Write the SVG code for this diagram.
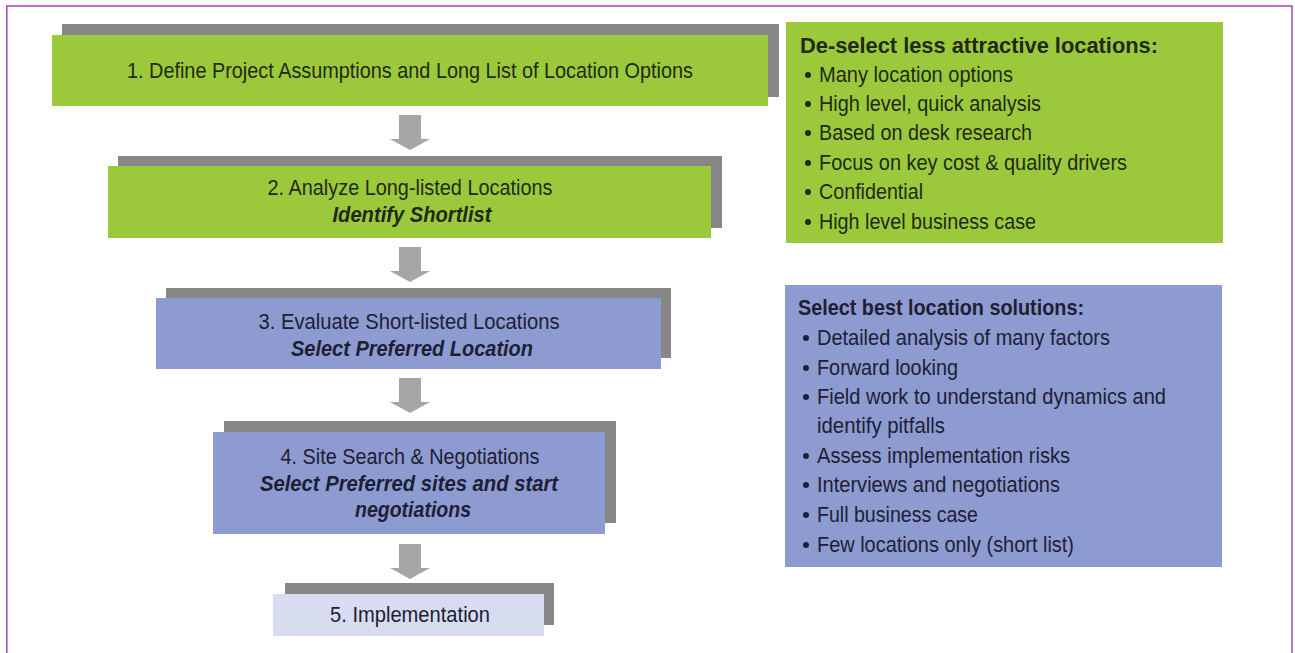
<svg xmlns="http://www.w3.org/2000/svg" width="1295" height="653" viewBox="0 0 1295 653">
  <defs>
    <style>
      .frame { fill: none; stroke: #a651bd; stroke-width: 1.6; }
      .shadow { fill: #878787; }
      .green { fill: #9cc93b; }
      .blue { fill: #8e9bd0; }
      .pale { fill: #d8dcf0; }
      .arrow { fill: #a6a6a6; }
      text { font-family: "Liberation Sans Narrow", "Liberation Sans", Arial, sans-serif; font-size: 22.5px; }
      .tg { fill: #1f2a14; }
      .tb { fill: #1d2035; }
      .c { text-anchor: middle; }
      .bi { font-weight: bold; font-style: italic; }
      .b { font-weight: bold; }
    </style>
    <path id="downArrow" d="M -11 0 H 11 V 24 H 20 L 0 35 L -20 24 H -11 Z"/>
  </defs>

  <rect width="1295" height="653" fill="#ffffff"/>
  <rect class="frame" x="6.8" y="6" width="1285.2" height="660"/>

  <!-- flow arrows between the steps -->
  <g id="connectors" class="arrow">
    <use href="#downArrow" x="410" y="115"/>
    <use href="#downArrow" x="410" y="247"/>
    <use href="#downArrow" x="410" y="378"/>
    <use href="#downArrow" x="410" y="544"/>
  </g>

  <g id="step1">
    <rect class="shadow" x="62" y="24" width="717" height="73"/>
    <rect class="green" x="52" y="35" width="716" height="71"/>
    <text class="tg c" x="410" y="78" textLength="566" lengthAdjust="spacingAndGlyphs">1. Define Project Assumptions and Long List of Location Options</text>
  </g>

  <g id="step2">
    <rect class="shadow" x="118" y="156" width="604" height="72"/>
    <rect class="green" x="108" y="166" width="603" height="72"/>
    <text class="tg c" x="410" y="195" textLength="285" lengthAdjust="spacingAndGlyphs">2. Analyze Long-listed Locations</text>
    <text class="tg c bi" x="412" y="222" textLength="159" lengthAdjust="spacingAndGlyphs">Identify Shortlist</text>
  </g>

  <g id="step3">
    <rect class="shadow" x="166" y="288" width="505" height="70"/>
    <rect class="blue" x="156" y="298" width="505" height="71"/>
    <text class="tb c" x="409" y="329" textLength="301" lengthAdjust="spacingAndGlyphs">3. Evaluate Short-listed Locations</text>
    <text class="tb c bi" x="412" y="356" textLength="242" lengthAdjust="spacingAndGlyphs">Select Preferred Location</text>
  </g>

  <g id="step4">
    <rect class="shadow" x="224" y="421" width="392" height="102"/>
    <rect class="blue" x="213" y="432" width="392" height="102"/>
    <text class="tb c" x="410" y="464" textLength="259" lengthAdjust="spacingAndGlyphs">4. Site Search &amp; Negotiations</text>
    <text class="tb c bi" x="409" y="491" textLength="298" lengthAdjust="spacingAndGlyphs">Select Preferred sites and start</text>
    <text class="tb c bi" x="413" y="517" textLength="116" lengthAdjust="spacingAndGlyphs">negotiations</text>
  </g>

  <g id="step5">
    <rect class="shadow" x="285" y="583" width="269" height="42"/>
    <rect class="pale" x="273" y="594" width="271" height="42"/>
    <text class="tb c" x="410" y="622" textLength="160" lengthAdjust="spacingAndGlyphs">5. Implementation</text>
  </g>

  <g id="deselect-panel">
    <rect class="green" x="786" y="22" width="437" height="221"/>
    <text class="tg b" x="800" y="53" textLength="358" lengthAdjust="spacingAndGlyphs">De-select less attractive locations:</text>
    <g class="tg">
      <circle cx="808" cy="75" r="3"/>
      <circle cx="808" cy="104" r="3"/>
      <circle cx="808" cy="133" r="3"/>
      <circle cx="808" cy="163" r="3"/>
      <circle cx="808" cy="192" r="3"/>
      <circle cx="808" cy="222" r="3"/>
    </g>
    <text class="tg" x="819" y="82" textLength="194" lengthAdjust="spacingAndGlyphs">Many location options</text>
    <text class="tg" x="819" y="111" textLength="222" lengthAdjust="spacingAndGlyphs">High level, quick analysis</text>
    <text class="tg" x="819" y="140" textLength="213" lengthAdjust="spacingAndGlyphs">Based on desk research</text>
    <text class="tg" x="819" y="170" textLength="308" lengthAdjust="spacingAndGlyphs">Focus on key cost &amp; quality drivers</text>
    <text class="tg" x="819" y="199" textLength="104" lengthAdjust="spacingAndGlyphs">Confidential</text>
    <text class="tg" x="819" y="229" textLength="217" lengthAdjust="spacingAndGlyphs">High level business case</text>
  </g>

  <g id="select-panel">
    <rect class="blue" x="785" y="285" width="437" height="282"/>
    <text class="tb b" x="798" y="315" textLength="286" lengthAdjust="spacingAndGlyphs">Select best location solutions:</text>
    <g class="tb">
      <circle cx="806" cy="338" r="3"/>
      <circle cx="806" cy="368" r="3"/>
      <circle cx="806" cy="397" r="3"/>
      <circle cx="806" cy="456" r="3"/>
      <circle cx="806" cy="485" r="3"/>
      <circle cx="806" cy="515" r="3"/>
      <circle cx="806" cy="545" r="3"/>
    </g>
    <text class="tb" x="817" y="345" textLength="293" lengthAdjust="spacingAndGlyphs">Detailed analysis of many factors</text>
    <text class="tb" x="817" y="375" textLength="141" lengthAdjust="spacingAndGlyphs">Forward looking</text>
    <text class="tb" x="817" y="404" textLength="349" lengthAdjust="spacingAndGlyphs">Field work to understand dynamics and</text>
    <text class="tb" x="817" y="433" textLength="128" lengthAdjust="spacingAndGlyphs">identify pitfalls</text>
    <text class="tb" x="817" y="463" textLength="253" lengthAdjust="spacingAndGlyphs">Assess implementation risks</text>
    <text class="tb" x="817" y="492" textLength="243" lengthAdjust="spacingAndGlyphs">Interviews and negotiations</text>
    <text class="tb" x="817" y="522" textLength="161" lengthAdjust="spacingAndGlyphs">Full business case</text>
    <text class="tb" x="817" y="552" textLength="257" lengthAdjust="spacingAndGlyphs">Few locations only (short list)</text>
  </g>
</svg>
